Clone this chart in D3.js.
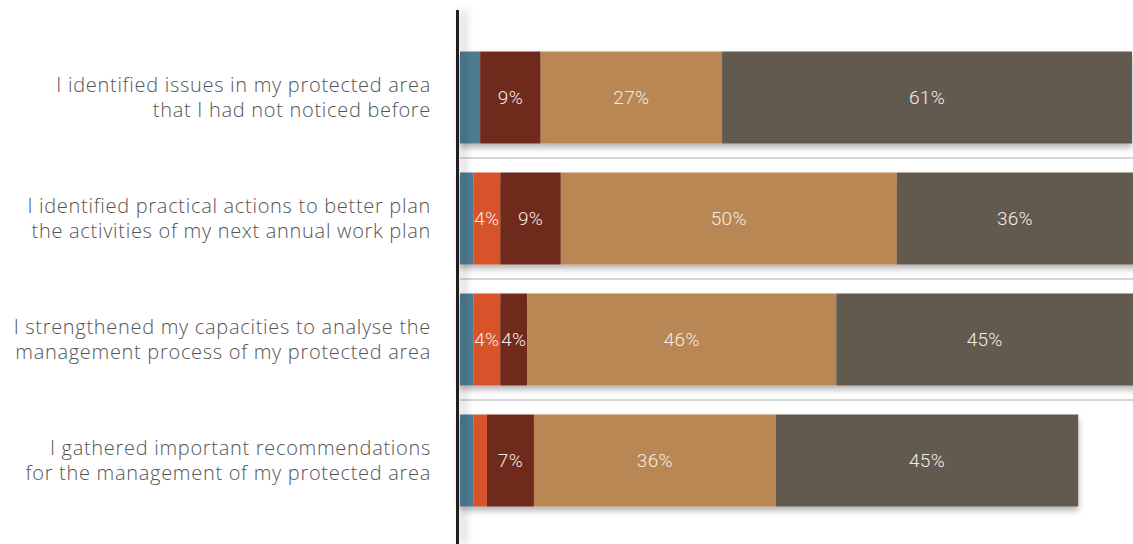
<!DOCTYPE html>
<html>
<head>
<meta charset="utf-8">
<script src="https://cdn.jsdelivr.net/npm/d3@7"></script>
<style>
  html, body { margin: 0; padding: 0; background: #fff; }
  svg { display: block; }
</style>
</head>
<body>
<svg id="chart" width="1133" height="544"></svg>
<script>
// Survey statements (two lines each)
const statements = [
  ["I identified issues in my protected area", "that I had not noticed before"],
  ["I identified practical actions to better plan", "the activities of my next annual work plan"],
  ["I strengthened my capacities to analyse the", "management process of my protected area"],
  ["I gathered important recommendations", "for the management of my protected area"]
];

// Share of respondents per answer level (%), one value per statement
const level1 = [3, 2, 2, 2];
const level2 = [0, 4, 4, 2];
const level3 = [9, 9, 4, 7];
const level4 = [27, 50, 46, 36];
const level5 = [61, 36, 45, 45];

const seriesColors = ["#4d7c91", "#d8522b", "#6f2a1d", "#b88752", "#635a4f"];
// Segments narrower than this share carry no value label
const minLabelShare = 4;

const series = [level1, level2, level3, level4, level5];
const width = 1133, height = 544;
const x0 = 460, x1 = 1132;
const labelFont = "'Open Sans', Roboto, sans-serif";
const valueFont = "Roboto, 'Open Sans', sans-serif";

const svg = d3.select("#chart");
const defs = svg.append("defs");

defs.append("filter").attr("id", "barShadow")
  .attr("x", "-5%").attr("y", "-20%").attr("width", "110%").attr("height", "150%")
  .append("feDropShadow")
  .attr("dx", 0).attr("dy", 4).attr("stdDeviation", 3)
  .attr("flood-color", "#000").attr("flood-opacity", 0.3);

defs.append("filter").attr("id", "axisShadow")
  .attr("filterUnits", "userSpaceOnUse")
  .attr("x", 440).attr("y", 0).attr("width", 60).attr("height", height)
  .append("feDropShadow")
  .attr("dx", 6).attr("dy", 0).attr("stdDeviation", 4)
  .attr("flood-color", "#000").attr("flood-opacity", 0.3);

const x = d3.scaleLinear().domain([0, 100]).range([x0, x1]);
const y = d3.scaleBand()
  .domain(d3.range(statements.length))
  .range([37, 521])
  .paddingInner(0.24)
  .paddingOuter(0.12);

// Gridlines between the statements
const gaps = d3.range(1, statements.length).map(i => y(i) - (y.step() - y.bandwidth()) / 2);
svg.append("g").selectAll("line").data(gaps).join("line")
  .attr("x1", x0).attr("x2", width)
  .attr("y1", d => d).attr("y2", d => d)
  .attr("stroke", "#d6d6d6").attr("stroke-width", 2);

// Stack the levels per statement
const rows = statements.map((s, i) => {
  let acc = 0;
  return series.map((ser, k) => {
    const seg = { row: i, level: k, start: acc, value: ser[i] };
    acc += ser[i];
    return seg;
  });
});

const barG = svg.append("g");
rows.forEach((segs, i) => {
  const g = barG.append("g").attr("filter", "url(#barShadow)");
  g.selectAll("rect").data(segs.filter(d => d.value > 0)).join("rect")
    .attr("x", d => x(d.start))
    .attr("y", y(i))
    .attr("width", d => x(d.start + d.value) - x(d.start))
    .attr("height", y.bandwidth())
    .attr("fill", d => seriesColors[d.level]);
});

// Value labels, centred on the visible part of each segment
const allSegs = rows.flat().filter(d => d.level > 0 && d.value >= minLabelShare);
svg.append("g").selectAll("text").data(allSegs).join("text")
  .attr("x", d => (x(d.start) + Math.min(x(d.start + d.value), width)) / 2)
  .attr("y", d => y(d.row) + y.bandwidth() / 2)
  .attr("dy", "0.35em")
  .attr("text-anchor", "middle")
  .attr("font-family", valueFont)
  .attr("font-weight", 300)
  .attr("font-size", 19)
  .attr("letter-spacing", 0.3)
  .attr("fill", "#f2ece6")
  .text(d => d.value + "%");

// Category axis line
svg.append("rect")
  .attr("x", 456).attr("y", 10)
  .attr("width", 3).attr("height", height - 10)
  .attr("fill", "#231f20")
  .attr("filter", "url(#axisShadow)");

// Statement labels
const lab = svg.append("g").selectAll("text").data(statements).join("text")
  .attr("text-anchor", "end")
  .attr("font-family", labelFont)
  .attr("font-weight", 300)
  .attr("font-size", 20)
  .attr("letter-spacing", 0.7)
  .attr("fill", "#555");
lab.each(function(lines, i) {
  const cy = y(i) + y.bandwidth() / 2;
  d3.select(this).selectAll("tspan").data(lines).join("tspan")
    .attr("x", 431)
    .attr("y", (d, j) => cy + (j - 0.5) * 25)
    .attr("dy", "0.35em")
    .text(d => d);
});
</script>
</body>
</html>
